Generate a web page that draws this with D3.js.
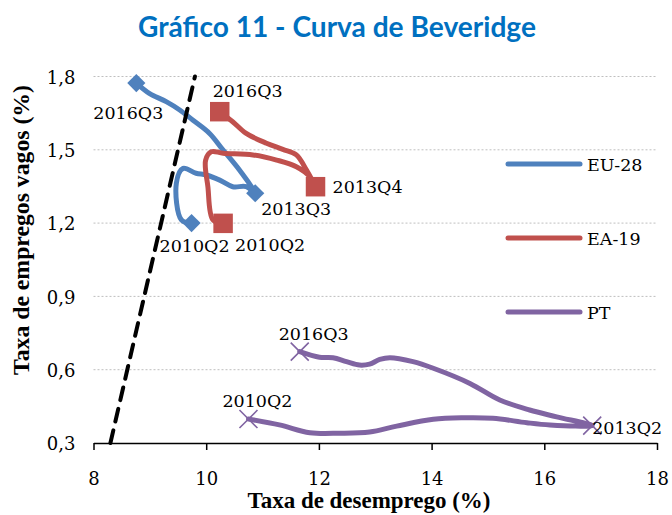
<!DOCTYPE html>
<html>
<head>
<meta charset="utf-8">
<script src="https://cdn.jsdelivr.net/npm/d3@7"></script>
<style>
  html, body { margin: 0; padding: 0; background: #fff; }
  svg { display: block; }
</style>
</head>
<body>
<svg id="chart" width="672" height="515"></svg>
<script>
// ---------- DATA ----------
const seriesNames = ["EU-28", "EA-19", "PT"];

// EU-28: 2010Q2 -> 2013Q3 -> 2016Q3
const eu28X = [9.74, 9.56, 9.47, 9.59, 9.82, 10.00, 10.24, 10.47, 10.71, 10.87,
               10.59, 10.30, 10.06, 9.76, 9.53, 9.29, 8.99, 8.76];
const eu28Y = [1.20, 1.213, 1.363, 1.424, 1.404, 1.397, 1.376, 1.349, 1.349, 1.322,
               1.417, 1.499, 1.567, 1.622, 1.663, 1.697, 1.731, 1.773];

// EA-19: 2010Q2 -> 2013Q4 -> 2016Q3
const ea19X = [10.30, 10.12, 10.03, 9.99, 10.09, 10.30, 10.83, 11.25, 11.60, 11.84, 11.94,
               11.78, 11.60, 11.36, 11.07, 10.71, 10.47, 10.24];
const ea19Y = [1.199, 1.213, 1.349, 1.458, 1.492, 1.486, 1.479, 1.458, 1.431, 1.390, 1.349,
               1.417, 1.479, 1.502, 1.527, 1.567, 1.615, 1.656];

// PT: 2010Q2 -> 2013Q2 -> 2016Q3
const ptX = [10.75, 11.30, 11.84, 12.37, 12.90, 13.38, 14.03, 14.56, 15.09, 15.69, 16.10, 16.85,
             16.22, 15.74, 15.21, 14.68, 14.03, 13.67, 13.26, 13.08, 12.90, 12.72, 12.49, 12.25, 12.01, 11.66];
const ptY = [0.398, 0.374, 0.342, 0.340, 0.345, 0.369, 0.397, 0.403, 0.401, 0.383, 0.374, 0.371,
             0.407, 0.435, 0.476, 0.544, 0.606, 0.633, 0.649, 0.642, 0.623, 0.619, 0.633, 0.649, 0.651, 0.674];

// indexes of the labelled periods in each series (start, turn, end)
const eu28Marks = [0, 9, 17];
const ea19Marks = [0, 10, 17];
const ptMarks   = [0, 11, 25];
const eu28Labels = ["2010Q2", "2013Q3", "2016Q3"];
const ea19Labels = ["2010Q2", "2013Q4", "2016Q3"];
const ptLabels   = ["2010Q2", "2013Q2", "2016Q3"];

// dashed reference line (y = x - 8)
const refX = [8.3, 9.8];
const refY = [0.3, 1.8];

const xTicks = [8, 10, 12, 14, 16, 18];
const yTicks = [0.3, 0.6, 0.9, 1.2, 1.5, 1.8];

const titleText = "Gráfico 11 - Curva de Beveridge";
const xTitle = "Taxa de desemprego (%)";
const yTitle = "Taxa de empregos vagos (%)";

// ---------- DRAWING ----------
const svg = d3.select("#chart");
const colors = { "EU-28": "#4F81BD", "EA-19": "#C0504D", "PT": "#8064A2" };
const serif = "'DejaVu Serif', serif";
const x = d3.scaleLinear().domain([8, 18]).range([93.5, 657]);
const y = d3.scaleLinear().domain([0.3, 1.8]).range([443, 76.5]);

function fitText(sel, target) {
  const w = sel.node().getComputedTextLength();
  const fs = parseFloat(sel.attr("font-size"));
  sel.attr("font-size", (fs * target / w).toFixed(2));
}

// Title
const t = svg.append("text")
  .attr("x", 337).attr("y", 37)
  .attr("text-anchor", "middle")
  .attr("font-family", "Lato, 'Open Sans', sans-serif")
  .attr("font-weight", "bold")
  .attr("font-size", 24)
  .attr("fill", "#0070C0")
  .text(titleText);
fitText(t, 398);

// Gridlines
svg.append("g").selectAll("line")
  .data(yTicks.filter(d => d > 0.3))
  .join("line")
  .attr("x1", x(8)).attr("x2", x(18))
  .attr("y1", d => y(d)).attr("y2", d => y(d))
  .attr("stroke", "#BFBFBF")
  .attr("stroke-width", 1)
  .attr("stroke-dasharray", "2,2");

// X axis
const xAxis = d3.axisBottom(x).tickValues(xTicks).tickSize(7).tickSizeOuter(0).tickFormat(d3.format("d"));
const gx = svg.append("g").attr("transform", `translate(0,${y(0.3)})`).call(xAxis);
gx.select(".domain").attr("stroke", "#000").attr("stroke-width", 1.5);
gx.selectAll(".tick line").attr("stroke", "#000").attr("stroke-width", 1.5);
gx.selectAll(".tick text")
  .attr("font-family", serif).attr("font-size", 18).attr("fill", "#000")
  .attr("dy", null).attr("y", 41.5);

// Y axis labels (no axis line)
const yAxis = d3.axisLeft(y).tickValues(yTicks).tickSize(0)
  .tickFormat(d => d3.format(".1f")(d).replace(".", ","));
const gy = svg.append("g").attr("transform", `translate(${x(8)},0)`).call(yAxis);
gy.select(".domain").remove();
gy.selectAll(".tick text")
  .attr("font-family", serif).attr("font-size", 18).attr("fill", "#000")
  .attr("x", -18).attr("dy", "0.38em");

// Axis titles
const xt = svg.append("text")
  .attr("x", 369).attr("y", 508)
  .attr("text-anchor", "middle")
  .attr("font-family", "'Liberation Serif', serif").attr("font-weight", "bold")
  .attr("font-size", 21).attr("fill", "#000")
  .text(xTitle);
fitText(xt, 243);
const yt = svg.append("text")
  .attr("transform", "translate(29,230) rotate(-90)")
  .attr("text-anchor", "middle")
  .attr("font-family", "'Liberation Serif', serif").attr("font-weight", "bold")
  .attr("font-size", 21).attr("fill", "#000")
  .text(yTitle);
fitText(yt, 290);

// Series
const line = d3.line().x(d => x(d[0])).y(d => y(d[1])).curve(d3.curveCatmullRom.alpha(0.5));
const series = [
  { name: "EU-28", xs: eu28X, ys: eu28Y, marks: eu28Marks, labels: eu28Labels, symbol: "diamond" },
  { name: "EA-19", xs: ea19X, ys: ea19Y, marks: ea19Marks, labels: ea19Labels, symbol: "square" },
  { name: "PT",    xs: ptX,   ys: ptY,   marks: ptMarks,   labels: ptLabels,   symbol: "x" }
];

// label offsets (style): [dx, dy, anchor] per series per labelled point
const labelOffsets = {
  "EU-28": [[3, 29, "middle"], [6, 22, "start"], [-8, 36, "middle"]],
  "EA-19": [[12, 28, "start"], [17, 6, "start"], [28, -15, "middle"]],
  "PT":    [[9, -12, "middle"], [0, 8, "start"], [14, -12, "middle"]]
};

series.forEach(s => {
  const pts = s.xs.map((v, i) => [v, s.ys[i]]);
  const g = svg.append("g");
  g.append("path")
    .attr("d", line(pts))
    .attr("fill", "none")
    .attr("stroke", colors[s.name])
    .attr("stroke-width", 5)
    .attr("stroke-linecap", "round")
    .attr("stroke-linejoin", "round");
  s.marks.forEach(i => {
    const px = x(s.xs[i]), py = y(s.ys[i]);
    if (s.symbol === "diamond") {
      g.append("path")
        .attr("d", d3.symbol(d3.symbolSquare, 165)())
        .attr("transform", `translate(${px},${py}) rotate(45)`)
        .attr("fill", colors[s.name]);
    } else if (s.symbol === "square") {
      g.append("path")
        .attr("d", d3.symbol(d3.symbolSquare, 380)())
        .attr("transform", `translate(${px},${py})`)
        .attr("fill", colors[s.name]);
    } else {
      g.append("path")
        .attr("d", "M-9,-9L9,9M-9,9L9,-9")
        .attr("transform", `translate(${px},${py})`)
        .attr("stroke", colors[s.name])
        .attr("stroke-width", 1.6)
        .attr("fill", "none");
    }
  });
});

// Dashed reference line
svg.append("path")
  .attr("d", d3.line().x(d => x(d[0])).y(d => y(d[1]))(refX.map((v, i) => [v, refY[i]])))
  .attr("stroke", "#000")
  .attr("stroke-width", 4)
  .attr("stroke-dasharray", "13,9")
  .attr("stroke-linecap", "round")
  .attr("fill", "none");

// Point labels
series.forEach(s => {
  s.marks.forEach((i, k) => {
    const o = labelOffsets[s.name][k];
    svg.append("text")
      .attr("x", x(s.xs[i]) + o[0])
      .attr("y", y(s.ys[i]) + o[1])
      .attr("text-anchor", o[2])
      .attr("font-family", serif).attr("font-size", 17.5).attr("fill", "#000")
      .text(s.labels[k]);
  });
});

// Legend
const legendY = [164, 238, 312];
const lg = svg.append("g");
seriesNames.forEach((n, i) => {
  lg.append("line")
    .attr("x1", 508).attr("x2", 580)
    .attr("y1", legendY[i]).attr("y2", legendY[i])
    .attr("stroke", colors[n]).attr("stroke-width", 5)
    .attr("stroke-linecap", "round");
  lg.append("text")
    .attr("x", 587).attr("y", legendY[i] + 6.5)
    .attr("font-family", serif).attr("font-size", 17.5).attr("fill", "#000")
    .text(n);
});
</script>
</body>
</html>
